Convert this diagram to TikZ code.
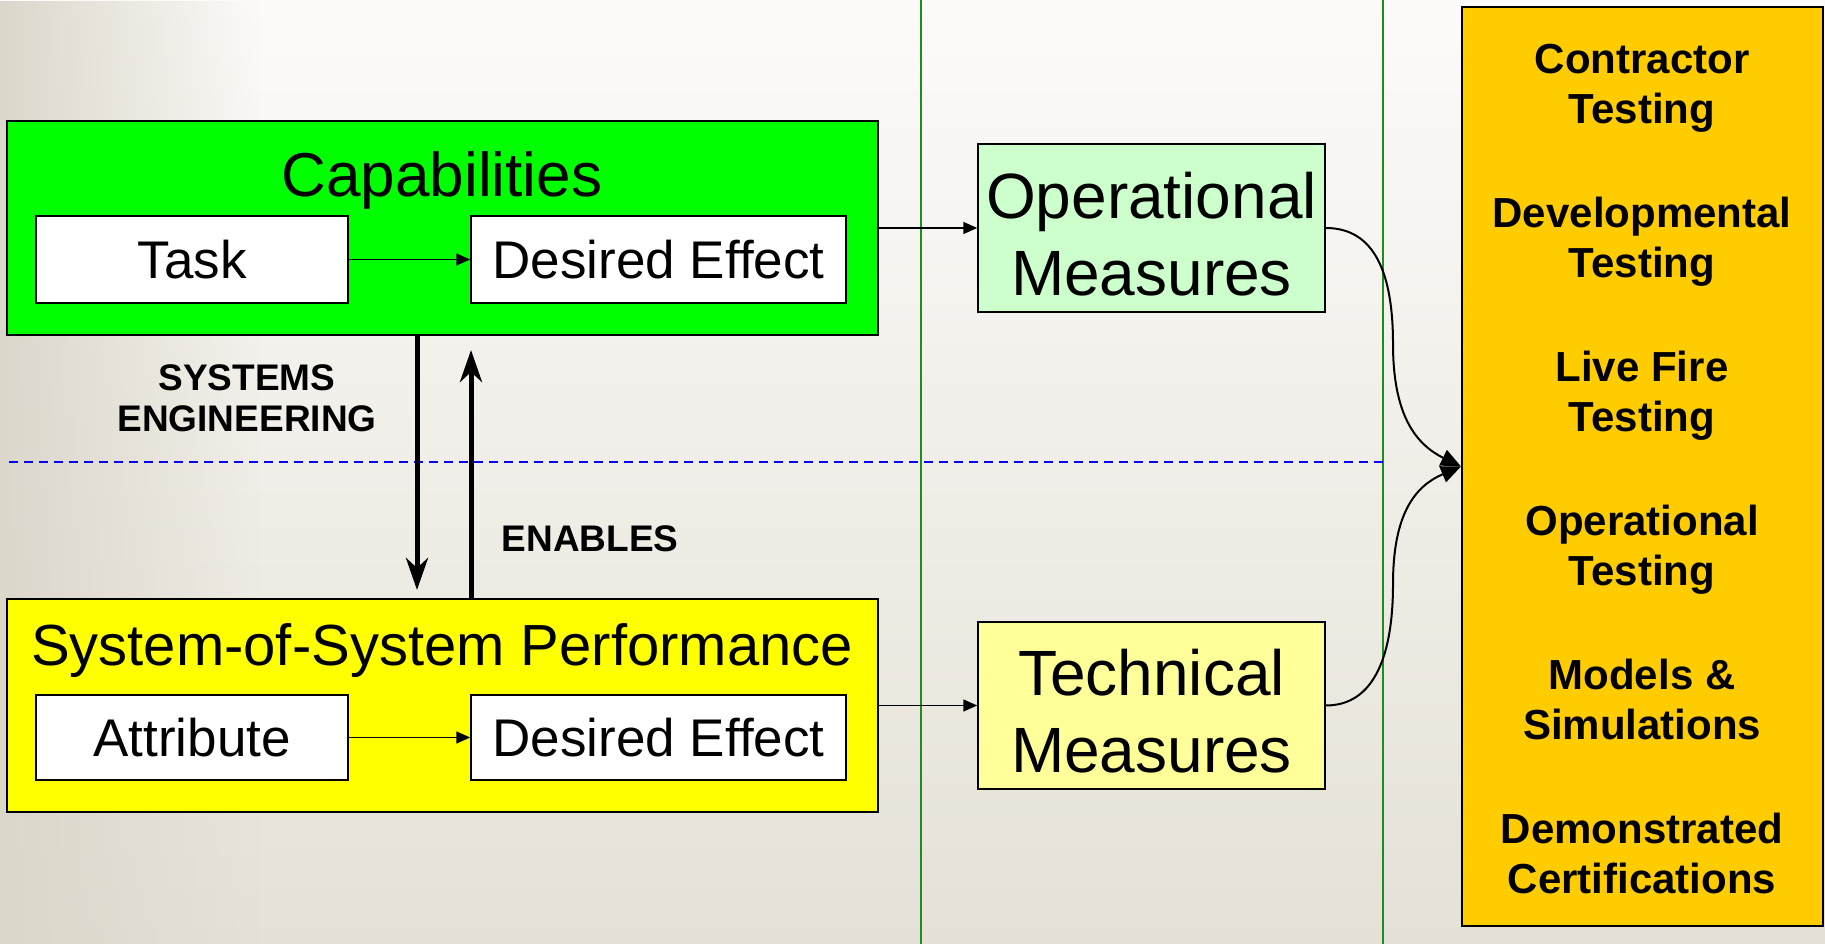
\documentclass[tikz,border=0pt]{standalone}
\usepackage{fontspec}
\setmainfont{Liberation Sans}
\usetikzlibrary{arrows.meta,fadings}
\definecolor{bgtop}{HTML}{FCFBF9}
\definecolor{bgbot}{HTML}{E5E1D7}
\definecolor{bgleft}{HTML}{DCD7CB}
\definecolor{capgreen}{HTML}{00FF00}
\definecolor{opgreen}{HTML}{CCFFCC}
\definecolor{sosyellow}{HTML}{FFFF00}
\definecolor{techyellow}{HTML}{FFFF99}
\definecolor{testorange}{HTML}{FFCC00}
\definecolor{colgreen}{HTML}{1E8C1E}
\tikzfading[name=leftfade, left color=transparent!0, right color=transparent!100]
\begin{document}
\begin{tikzpicture}
	[
		x=1pt, y=1pt,
		outerbox/.style={draw=black, line width=2pt, minimum width=871pt, minimum height=214pt, inner sep=0pt},
		innerbox/.style={draw=black, fill=white, line width=1.5pt, minimum height=87pt, inner sep=0pt, font=\fontsize{53}{60}\selectfont},
		measurebox/.style={draw=black, line width=1.5pt, minimum width=347pt, minimum height=168pt, inner sep=0pt, align=center, font=\fontsize{64}{77}\selectfont},
		titletext/.style={inner sep=0pt, font=\fontsize{62}{70}\selectfont},
		sidelabel/.style={align=center, font=\fontsize{37}{41}\selectfont\bfseries},
		testitem/.style={align=center, font=\fontsize{42}{50}\selectfont\bfseries},
		thinarrow/.style={-{Triangle[length=14pt,width=12pt]}, line width=1.5pt},
		thickarrow/.style={-{Stealth[length=32pt,width=22pt,inset=10pt]}, line width=5pt},
		curvearrow/.style={-{Triangle[length=20pt,width=17pt]}, line width=2pt},
		colline/.style={draw=colgreen, line width=2pt}
	]
	\useasboundingbox (0,0) rectangle (1825,944);
	% Background
	\shade[top color=bgtop, bottom color=bgbot] (0,0) rectangle (1825,944);
	\fill[bgleft, path fading=leftfade] (0,0) rectangle (260,944);
	% Columns and level line
	\draw[colline] (921,0) -- (921,944);
	\draw[colline] (1383,0) -- (1383,944);
	\draw[blue, line width=1.5pt, dash pattern=on 9pt off 6pt] (9,482) -- (1385,482);
	% Capabilities
	\node[outerbox, fill=capgreen] (cap) at (442.5,716) {};
	\node[titletext] (captitle) at (442,764) {Capabilities};
	\node[innerbox, minimum width=312pt] (task) at (192,684.5) {Task};
	\node[innerbox, minimum width=375pt] (capeffect) at (658.5,684.5) {Desired Effect};
	\node[measurebox, fill=opgreen] (opmeas) at (1151.5,716) {\rule{0pt}{59pt}Operational\\Measures};
	% System-of-System Performance
	\node[outerbox, fill=sosyellow, minimum height=213pt] (sos) at (442.5,238.5) {};
	\node[titletext, font=\fontsize{58}{66}\selectfont] (sostitle) at (442,293) {System-of-System Performance};
	\node[innerbox, minimum width=312pt, minimum height=85pt] (attr) at (192,206.5) {Attribute};
	\node[innerbox, minimum width=375pt, minimum height=85pt] (soseffect) at (658.5,206.5) {Desired Effect};
	\node[measurebox, fill=techyellow, minimum height=167pt] (techmeas) at (1151.5,238.5) {\rule{0pt}{57pt}Technical\\Measures};
	% Testing
	\node[draw=black, line width=2pt, fill=testorange, minimum width=361pt, minimum height=919pt, inner sep=0pt] (testing) at (1642.5,477.5) {};
	\foreach \i/\y/\txt in {1/856/{Contractor\\Testing}, 2/702/{Developmental\\Testing}, 3/548/{Live Fire\\Testing},
		4/394/{Operational\\Testing}, 5/245/{Models \&\\Simulations}, 6/91/{Demonstrated\\Certifications}} {
			\node[testitem] (item\i) at (1642,\y) {\txt};
		}
	% Labels
	\node[sidelabel] (syseng) at (247,546) {SYSTEMS\\ENGINEERING};
	\node[sidelabel] (enables) at (590,405) {ENABLES};
	% Arrows
	\draw[thinarrow] (task) -- (capeffect);
	\draw[thinarrow] (attr) -- (soseffect);
	\draw[thinarrow] (cap) -- (opmeas);
	\draw[thinarrow] (sos) -- (techmeas);
	\draw[thickarrow, shorten >=8pt] ([xshift=-25.5pt]cap.south) -- ([xshift=-25.5pt]sos.north);
	\draw[thickarrow, shorten >=14pt] ([xshift=28.5pt]sos.north) -- ([xshift=28.5pt]cap.south);
	\coordinate (merge) at (testing.west);
	\draw[curvearrow] (opmeas.east) .. controls (1375,716) and (1393,670) .. (1393,600)
		.. controls (1393,530) and (1415,500) .. (merge);
	\draw[curvearrow] (techmeas.east) .. controls (1375,238.5) and (1393,290) .. (1393,360)
		.. controls (1393,430) and (1415,458) .. (merge);
\end{tikzpicture}
\end{document}
